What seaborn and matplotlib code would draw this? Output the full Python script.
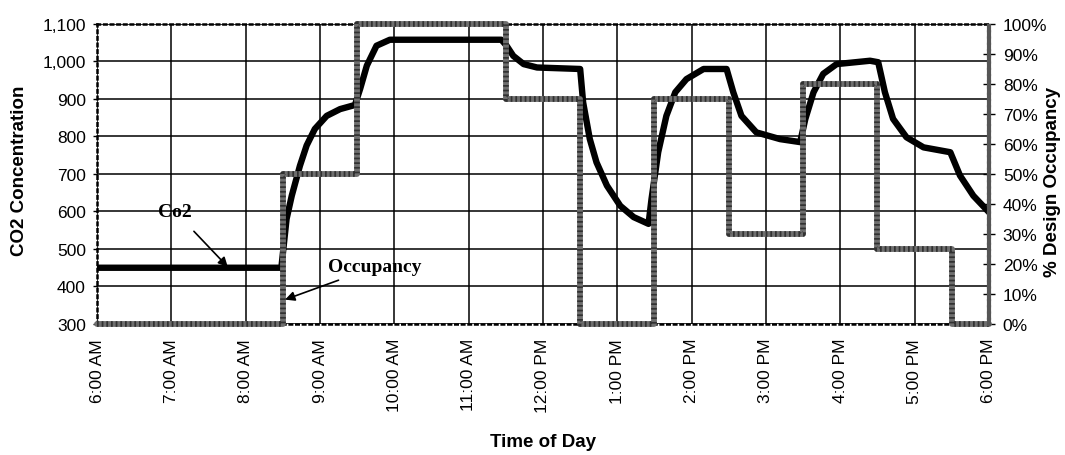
import matplotlib
matplotlib.use("Agg")
import matplotlib.pyplot as plt
import seaborn as sns
import pandas as pd

# CO2 concentration readings (hour of day, ppm)
co2_time = [6.0, 8.48, 8.55, 8.62, 8.73, 8.82, 8.93, 9.09, 9.27, 9.47, 9.54, 9.63, 9.76, 9.94,
            11.44, 11.51, 11.60, 11.74, 11.92, 12.50, 12.54, 12.63, 12.72, 12.86, 13.04, 13.22,
            13.42, 13.46, 13.55, 13.66, 13.78, 13.93, 14.16, 14.47, 14.56, 14.67, 14.87, 15.19,
            15.46, 15.53, 15.64, 15.77, 15.95, 16.40, 16.51, 16.60, 16.71, 16.89, 17.12, 17.48,
            17.61, 17.79, 18.0]
co2_ppm = [450, 450, 580, 642, 722, 776, 820, 855, 873, 884, 927, 989, 1042, 1058,
           1058, 1042, 1015, 993, 984, 980, 891, 793, 731, 669, 615, 585,
           567, 633, 758, 855, 918, 953, 980, 980, 918, 855, 811, 793,
           785, 847, 918, 967, 993, 1002, 998, 918, 847, 798, 771, 758,
           696, 642, 598]

# occupancy schedule (step start hour, % of design occupancy)
occ_time = [6.0, 8.5, 9.5, 11.5, 12.5, 13.5, 14.5, 15.5, 16.5, 17.5, 18.0]
occ_pct = [0, 50, 100, 75, 0, 75, 30, 80, 25, 0, 0]

hour_ticks = [6, 7, 8, 9, 10, 11, 12, 13, 14, 15, 16, 17, 18]
hour_labels = ["6:00 AM", "7:00 AM", "8:00 AM", "9:00 AM", "10:00 AM", "11:00 AM", "12:00 PM",
               "1:00 PM", "2:00 PM", "3:00 PM", "4:00 PM", "5:00 PM", "6:00 PM"]
co2_ticks = [300, 400, 500, 600, 700, 800, 900, 1000, 1100]
occ_ticks = [0, 10, 20, 30, 40, 50, 60, 70, 80, 90, 100]

sns.set_theme(style="white", rc={"text.color": "black", "axes.labelcolor": "black",
                                 "xtick.color": "black", "ytick.color": "black"})
plt.rcParams['font.family'] = ['Liberation Sans', 'DejaVu Sans']

df_co2 = pd.DataFrame({"time": co2_time, "co2": co2_ppm})
df_occ = pd.DataFrame({"time": occ_time, "occ": occ_pct})

fig = plt.figure(figsize=(10.65, 4.56), dpi=100)
ax = fig.add_axes([0.0911, 0.2873, 0.8375, 0.6579])
ax2 = ax.twinx()

ax.set_xlim(6, 18)
ax.set_ylim(300, 1100)
ax2.set_ylim(0, 100)

ax.grid(True, color="black", linewidth=1.1)
ax.set_axisbelow(True)

sns.lineplot(data=df_co2, x="time", y="co2", ax=ax, color="black", linewidth=4.6,
             estimator=None, sort=False, solid_joinstyle="round", solid_capstyle="round",
             zorder=5)

# occupancy: grey band with a dark dotted texture
sns.lineplot(data=df_occ, x="time", y="occ", ax=ax2, color="#6e6e6e", linewidth=4.2,
             estimator=None, drawstyle="steps-post", clip_on=False)
sns.lineplot(data=df_occ, x="time", y="occ", ax=ax2, color="black", linewidth=4.2,
             estimator=None, drawstyle="steps-post", clip_on=False,
             linestyle=(0, (0.3, 0.5)), alpha=0.55)

# ticks and labels
ax.set_xticks(hour_ticks)
ax.set_xticklabels(hour_labels, rotation=90, fontsize=12.5)
ax.set_yticks(co2_ticks)
ax.set_yticklabels([f"{v:,}" for v in co2_ticks], fontsize=12.5)
ax.tick_params(axis="x", length=0, pad=10)
ax.tick_params(axis="y", length=3, width=1, color="black", pad=5, left=True)

ax2.set_yticks(occ_ticks)
ax2.set_yticklabels([f"{v}%" for v in occ_ticks], fontsize=12.5)
ax2.tick_params(axis="y", direction="inout", length=8, width=1, color="black", pad=6, right=True)

ax.set_xlabel("Time of Day", fontsize=13.5, fontweight="bold")
ax.xaxis.set_label_coords(0.5, -0.365)
ax.xaxis.label.set_va("top")
ax.set_ylabel("CO2 Concentration", fontsize=13.5, fontweight="bold")
ax.yaxis.set_label_coords(-0.077, 0.513)
ax2.set_ylabel("% Design Occupancy", fontsize=13.5, fontweight="bold")
ax2.yaxis.set_label_coords(1.062, 0.477)

# frame
for sp in ["top", "left", "bottom"]:
    ax.spines[sp].set_linestyle(":")
    ax.spines[sp].set_linewidth(1.8)
    ax.spines[sp].set_color("black")
    ax2.spines[sp].set_visible(False)
ax.spines["right"].set_visible(False)
ax2.spines["right"].set_color("#555555")
ax2.spines["right"].set_linewidth(3)
ax2.spines["right"].set_linestyle((0, (1, 0.5)))

# callouts
ax.annotate("Co2", xy=(7.76, 452), xytext=(7.05, 600), fontsize=14, fontweight="bold",
            family="Liberation Serif", ha="center", va="center",
            arrowprops=dict(arrowstyle="-|>", color="black", lw=1.2, shrinkA=8, shrinkB=0))
ax.annotate("Occupancy", xy=(8.53, 365), xytext=(9.11, 452), fontsize=14, fontweight="bold",
            family="Liberation Serif", ha="left", va="center",
            arrowprops=dict(arrowstyle="-|>", color="black", lw=1.2, shrinkA=3, shrinkB=0))

fig.savefig("out.png", dpi=100)
